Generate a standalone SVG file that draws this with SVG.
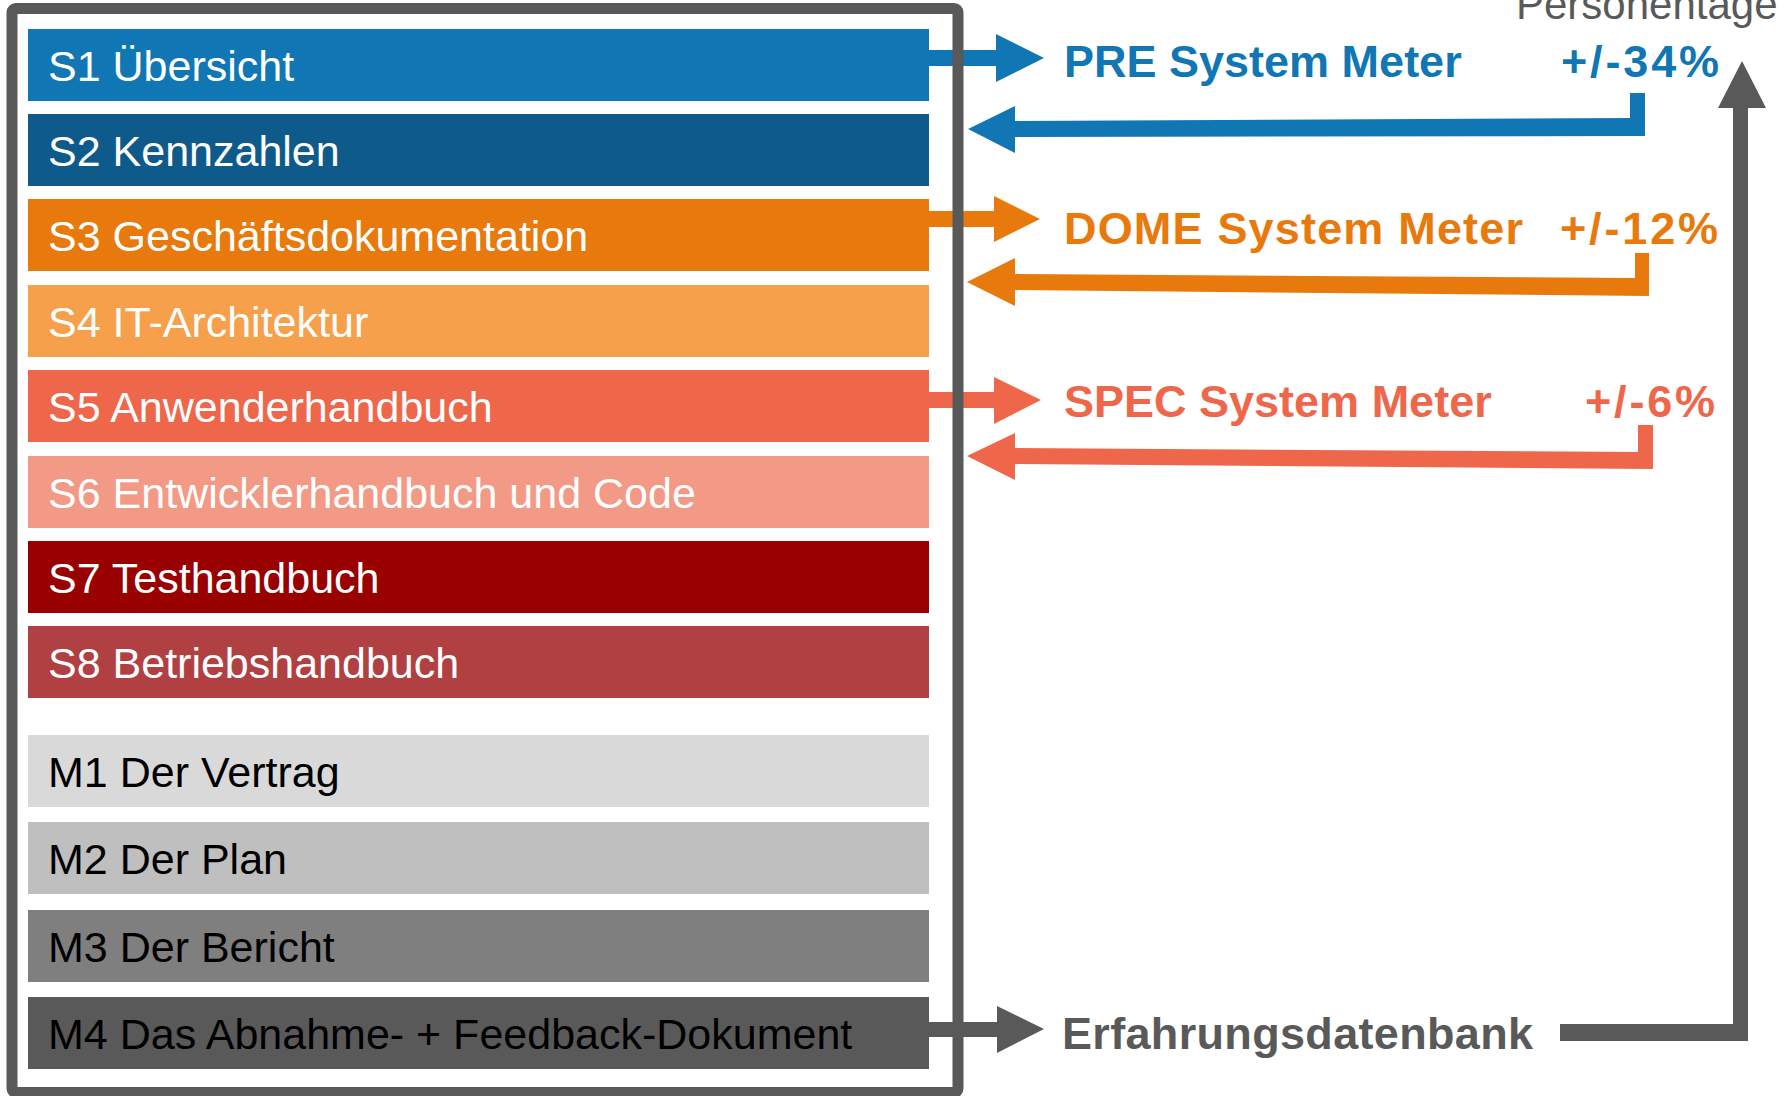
<svg xmlns="http://www.w3.org/2000/svg" width="1785" height="1096" viewBox="0 0 1785 1096">
<style>
.lbl{font-family:"Liberation Sans",Arial,sans-serif;font-size:43px}
.w{fill:#ffffff}.k{fill:#000000}
.big{font-family:"Liberation Sans",Arial,sans-serif;font-size:45px;font-weight:bold}
.blue{fill:#1177B4}.orange{fill:#E8790C}.red{fill:#EF674B}.gray{fill:#595959}
</style>
<rect width="1785" height="1096" fill="#ffffff"/>
<g id="connectors">
  <polygon class="blue" points="929,50 996,50 996,34 1044,58 996,82 996,66 929,66"/>
  <polygon class="blue" points="968,129 1015,106 1015,121 1630,118 1630,93 1645,93 1645,136 1015,137 1015,153"/>
  <polygon class="orange" points="929,211 994,211 994,196 1040,219 994,242 994,227 929,227"/>
  <polygon class="orange" points="967,282 1015,258 1015,274 1635,278 1635,253 1649,253 1649,296 1015,290 1015,306"/>
  <polygon class="red" points="929,392 994,392 994,377 1041,400 994,424 994,408 929,408"/>
  <polygon class="red" points="967,456 1015,433 1015,448 1638,452 1638,425 1653,425 1653,469 1015,464 1015,480"/>
  <polygon class="gray" points="929,1022 997,1022 997,1006 1044,1029 997,1053 997,1037 929,1037"/>
  <polygon class="gray" points="1560,1024 1733,1024 1733,108 1718,108 1742,61 1766,108 1748,108 1748,1041 1560,1041"/>
</g>
<g id="frame">
  <rect x="12" y="8.5" width="946" height="1084" rx="4" fill="none" stroke="#595959" stroke-width="11"/>
</g>
<g id="S1"><rect x="28" y="29" width="901" height="72" fill="#1177B4"/><text class="lbl w" x="48" y="81">S1 Übersicht</text></g>
<g id="S2"><rect x="28" y="114" width="901" height="72" fill="#0E5A8A"/><text class="lbl w" x="48" y="166">S2 Kennzahlen</text></g>
<g id="S3"><rect x="28" y="199" width="901" height="72" fill="#E8790C"/><text class="lbl w" x="48" y="251">S3 Geschäftsdokumentation</text></g>
<g id="S4"><rect x="28" y="285" width="901" height="72" fill="#F6A04B"/><text class="lbl w" x="48" y="337">S4 IT-Architektur</text></g>
<g id="S5"><rect x="28" y="370" width="901" height="72" fill="#EF674B"/><text class="lbl w" x="48" y="422">S5 Anwenderhandbuch</text></g>
<g id="S6"><rect x="28" y="456" width="901" height="72" fill="#F39A86"/><text class="lbl w" x="48" y="508">S6 Entwicklerhandbuch und Code</text></g>
<g id="S7"><rect x="28" y="541" width="901" height="72" fill="#990000"/><text class="lbl w" x="48" y="593">S7 Testhandbuch</text></g>
<g id="S8"><rect x="28" y="626" width="901" height="72" fill="#B14043"/><text class="lbl w" x="48" y="678">S8 Betriebshandbuch</text></g>
<g id="M1"><rect x="28" y="735" width="901" height="72" fill="#D9D9D9"/><text class="lbl k" x="48" y="787">M1 Der Vertrag</text></g>
<g id="M2"><rect x="28" y="822" width="901" height="72" fill="#BFBFBF"/><text class="lbl k" x="48" y="874">M2 Der Plan</text></g>
<g id="M3"><rect x="28" y="910" width="901" height="72" fill="#7F7F7F"/><text class="lbl k" x="48" y="962">M3 Der Bericht</text></g>
<g id="M4"><rect x="28" y="997" width="901" height="72" fill="#595959"/><text class="lbl k" x="48" y="1049">M4 Das Abnahme- + Feedback-Dokument</text></g>
<g id="PRE"><text class="big blue" x="1064" y="77">PRE System Meter</text><text class="big blue" x="1561" y="77" textLength="158" lengthAdjust="spacing">+/-34%</text></g>
<g id="DOME"><text class="big orange" x="1064" y="244" textLength="459" lengthAdjust="spacing">DOME System Meter</text><text class="big orange" x="1560" y="244" textLength="158" lengthAdjust="spacing">+/-12%</text></g>
<g id="SPEC"><text class="big red" x="1064" y="417">SPEC System Meter</text><text class="big red" x="1585" y="417" textLength="130" lengthAdjust="spacing">+/-6%</text></g>
<g id="DB"><text class="big gray" x="1062" y="1049" textLength="471" lengthAdjust="spacing">Erfahrungsdatenbank</text></g>
<g id="PT"><text x="1516" y="19" font-family="Liberation Sans, Arial, sans-serif" font-size="42" fill="#595959">Personentage</text></g>
</svg>
